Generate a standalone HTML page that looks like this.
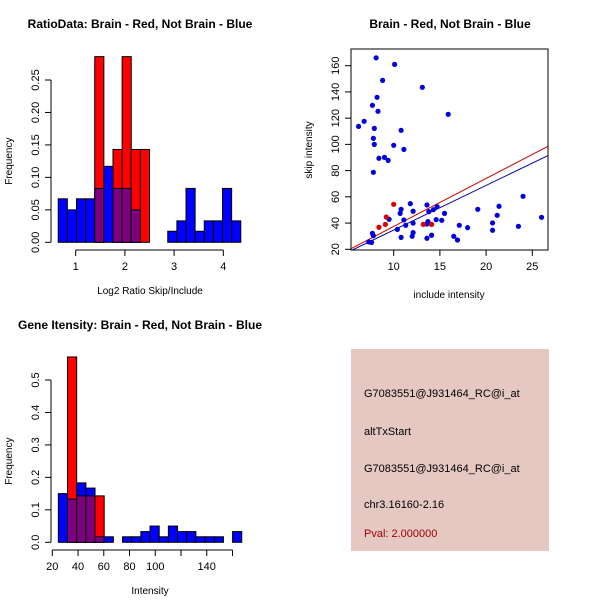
<!DOCTYPE html>
<html><head><meta charset="utf-8"><style>
body{margin:0;background:#fff}
svg{display:block;font-family:"Liberation Sans",sans-serif}
</style></head><body>
<svg id="s" width="600" height="600" viewBox="0 0 600 600">
<rect x="0" y="0" width="600" height="600" fill="#fff"/>
<g id="p1"></g>
<g id="p2"></g>
<g id="p3"></g>
<g>
<rect x="351" y="349" width="198" height="202" fill="#e6c8c2"/>
<text x="364" y="397" font-size="11" fill="#000">G7083551@J931464_RC@i_at</text>
<text x="364" y="435" font-size="11" fill="#000">altTxStart</text>
<text x="364" y="472" font-size="11" fill="#000">G7083551@J931464_RC@i_at</text>
<text x="364" y="508" font-size="11" fill="#000">chr3.16160-2.16</text>
<text x="364" y="537" font-size="11" fill="#a00000">Pval: 2.000000</text>
</g>
</svg>
<script>
// Chart 1 data
const ratioBinStart = 0.645, ratioBinWidth = 0.1855;
const ratioBlue = [0.067,0.05,0.067,0.067,0.083,0.117,0.083,0.083,0.05,0,0,0,0.017,0.033,0.083,0.017,0.033,0.033,0.083,0.033];
const ratioRed  = [0,0,0,0,0.286,0,0.143,0.286,0.143,0.143,0,0,0,0,0,0,0,0,0,0];
const ratioXTicks = [1,2,3,4];
const ratioYTicks = ["0.00","0.05","0.10","0.15","0.20","0.25"];
// Chart 2 data
const includeBlue = [6.2,6.8,8.1,10.1,8.8,13.1,8.2,7.7,8.3,15.9,7.9,10.8,7.8,7.9,10,11.1,8.4,9.0,9.4,7.8,24,11.8,13.6,14.7,21.4,19.1,10.8,14.3,13.8,12.1,15.5,10.7,21.2,26.0,9.5,14.6,15.2,11.1,12.1,13.7,13.6,11.3,17.1,20.7,18.0,23.5,10.4,20.7,12.1,7.7,7.8,12,14.1,16.5,10.8,13.6,16.9,7.3,7.6];
const skipBlue = [113.7,117.6,166,161,148.8,143.5,135.9,129.8,125.2,122.9,112.2,110.7,104.6,100,99.3,96.2,89.4,90.1,87.8,78.7,60.4,54.8,53.8,52.5,52.8,50.5,50.5,50.2,48.7,49,47.4,47.4,45.9,44.4,42.9,42.6,42.1,42.4,40,41.1,39.3,38.3,38.3,40.1,36.5,37.5,35.2,34.5,32.7,32.2,30.4,29.9,30.7,29.9,29.1,28.4,27.1,25.6,25.3];
const includeRed = [10,9.2,9.1,8.4,13.2,14.1];
const skipRed = [54.3,44.6,39,36.8,39,39];
const fitRed = [0.8,3.66];   // intercept, slope
const fitBlue = [0.7,3.4];
const scatXTicks = [10,15,20,25];
const scatYTicks = [20,40,60,80,100,120,140,160];
// Chart 3 data
const geneBinStart = 24.7, geneBinWidth = 7.125;
const geneBlue = [0.15,0.133,0.183,0.167,0.017,0.017,0,0.017,0.017,0.033,0.05,0.017,0.05,0.033,0.033,0.017,0.017,0.017,0,0.033];
const geneRed  = [0,0.571,0.143,0.143,0.143,0,0,0,0,0,0,0,0,0,0,0,0,0,0,0];
const geneXTicks = [20,40,60,80,100,120,140,160];
const geneXLabels = ["20","40","60","80","100","","140",""];
const geneYTicks = ["0.0","0.1","0.2","0.3","0.4","0.5"];

const NS="http://www.w3.org/2000/svg";
function mk(parent,tag,attrs,text){const e=document.createElementNS(NS,tag);for(const k in attrs)e.setAttribute(k,attrs[k]);if(text!==undefined)e.textContent=text;parent.appendChild(e);return e;}

function hist(g,o){
  const sx=v=>o.x0+(v-o.v0)*o.kx, sy=v=>o.y0-v*o.ky;
  for(let i=0;i<o.blue.length;i++){
    const a=o.start+i*o.w, b=a+o.w, x=sx(a), wpx=sx(b)-sx(a);
    const bl=o.blue[i], rd=o.red[i], lo=Math.min(bl,rd), hi=Math.max(bl,rd);
    if(hi>0){
      const top=mk(g,'rect',{x:x,y:sy(hi),width:wpx,height:sy(0)-sy(hi),fill:bl>=rd?'#0000ff':'#ff0000',stroke:'#000','stroke-width':1});
      
      
    }
    if(lo>0){
      const ov=mk(g,'rect',{x:x,y:sy(lo),width:wpx,height:sy(0)-sy(lo),fill:'#7f007f',stroke:'#000','stroke-width':1});
      
      
    }
  }
  // axes
  const xa=mk(g,'g',{});
  
  
  const xt=o.xticks;
  mk(xa,'line',{x1:sx(xt[0]),x2:sx(xt[xt.length-1]),y1:o.axY,y2:o.axY,stroke:'#000'});
  xt.forEach((t,i)=>{mk(xa,'line',{x1:sx(t),x2:sx(t),y1:o.axY,y2:o.axY+6,stroke:'#000'});
    const l=o.xlabels?o.xlabels[i]:String(t); if(l) mk(xa,'text',{x:sx(t),y:o.axY+20,'font-size':11,'text-anchor':'middle'},l);});
  const ya=mk(g,'g',{});
  
  
  const yv=o.yticks.map(Number);
  mk(ya,'line',{x1:51,x2:51,y1:sy(yv[0]),y2:sy(yv[yv.length-1]),stroke:'#000'});
  o.yticks.forEach(t=>{const y=sy(Number(t));mk(ya,'line',{x1:45,x2:51,y1:y,y2:y,stroke:'#000'});
    mk(ya,'text',{x:0,y:0,'font-size':11,'text-anchor':'middle',transform:`translate(39,${y}) rotate(-90)`},t);});
  const tl=mk(g,'text',{x:140,y:o.titleY,'font-size':12,'font-weight':'bold','text-anchor':'middle'},o.title);
  
  
  const xl=mk(g,'text',{x:150,y:o.axY+44,'font-size':10,'text-anchor':'middle'},o.xlabel);
  
  
  const yl=mk(g,'text',{x:0,y:0,'font-size':10,'text-anchor':'middle',transform:`translate(12,${(sy(0)+sy(yv[yv.length-1]))/2}) rotate(-90)`},'Frequency');
  
  
}

hist(document.getElementById('p1'),{x0:75.7,v0:1,kx:49.2,y0:242.3,ky:649.2,start:ratioBinStart,w:ratioBinWidth,blue:ratioBlue,red:ratioRed,xticks:ratioXTicks,yticks:ratioYTicks,axY:250,title:'RatioData: Brain - Red, Not Brain - Blue',titleY:28,xlabel:'Log2 Ratio Skip/Include'});
hist(document.getElementById('p3'),{x0:52.3,v0:20,kx:1.287,y0:542.3,ky:324.6,start:geneBinStart,w:geneBinWidth,blue:geneBlue,red:geneRed,xticks:geneXTicks,xlabels:geneXLabels,yticks:geneYTicks,axY:550,title:'Gene Itensity: Brain - Red, Not Brain - Blue',titleY:329,xlabel:'Intensity'});

// scatter
(function(){
  const g=document.getElementById('p2');
  const sx=v=>393.7+(v-10)*9.24, sy=v=>249.3-(v-20)*1.3115;
  const L=351,R=548,T=49,B=250;
  const cp=mk(g,'clipPath',{id:'cp'});mk(cp,'rect',{x:L,y:T,width:R-L,height:B-T});
  const xmin=(L-393.7)/9.24+10, xmax=(R-393.7)/9.24+10;
  [[fitRed,'#cc0000','fit-line-red'],[fitBlue,'#0000aa','fit-line-blue']].forEach(([f,c,n])=>{
    const ln=mk(g,'line',{x1:sx(xmin),y1:sy(f[0]+f[1]*xmin),x2:sx(xmax),y2:sy(f[0]+f[1]*xmax),stroke:c,'stroke-width':1,'clip-path':'url(#cp)'});
    
    
  });
  includeBlue.forEach((v,i)=>{const c=mk(g,'circle',{cx:sx(v),cy:sy(skipBlue[i]),r:2.6,fill:'#0000dd'});
    
    });
  includeRed.forEach((v,i)=>{const c=mk(g,'circle',{cx:sx(v),cy:sy(skipRed[i]),r:2.6,fill:'#dd0000'});
    
    });
  mk(g,'rect',{x:L,y:T,width:R-L,height:B-T,fill:'none',stroke:'#000'});
  scatXTicks.forEach(t=>{mk(g,'line',{x1:sx(t),x2:sx(t),y1:B,y2:B+6,stroke:'#000'});mk(g,'text',{x:sx(t),y:B+20,'font-size':11,'text-anchor':'middle'},String(t));});
  scatYTicks.forEach(t=>{mk(g,'line',{x1:L-6,x2:L,y1:sy(t),y2:sy(t),stroke:'#000'});mk(g,'text',{x:0,y:0,'font-size':11,'text-anchor':'middle',transform:`translate(339,${sy(t)}) rotate(-90)`},String(t));});
  const t=mk(g,'text',{x:450,y:28,'font-size':12,'font-weight':'bold','text-anchor':'middle'},'Brain - Red, Not Brain - Blue');
  
  
  const xl=mk(g,'text',{x:449,y:298,'font-size':10,'text-anchor':'middle'},'include intensity');
  
  
  const yl=mk(g,'text',{x:0,y:0,'font-size':10,'text-anchor':'middle',transform:'translate(312,150) rotate(-90)'},'skip intensity');
  
  
})();
</script>
</body></html>
